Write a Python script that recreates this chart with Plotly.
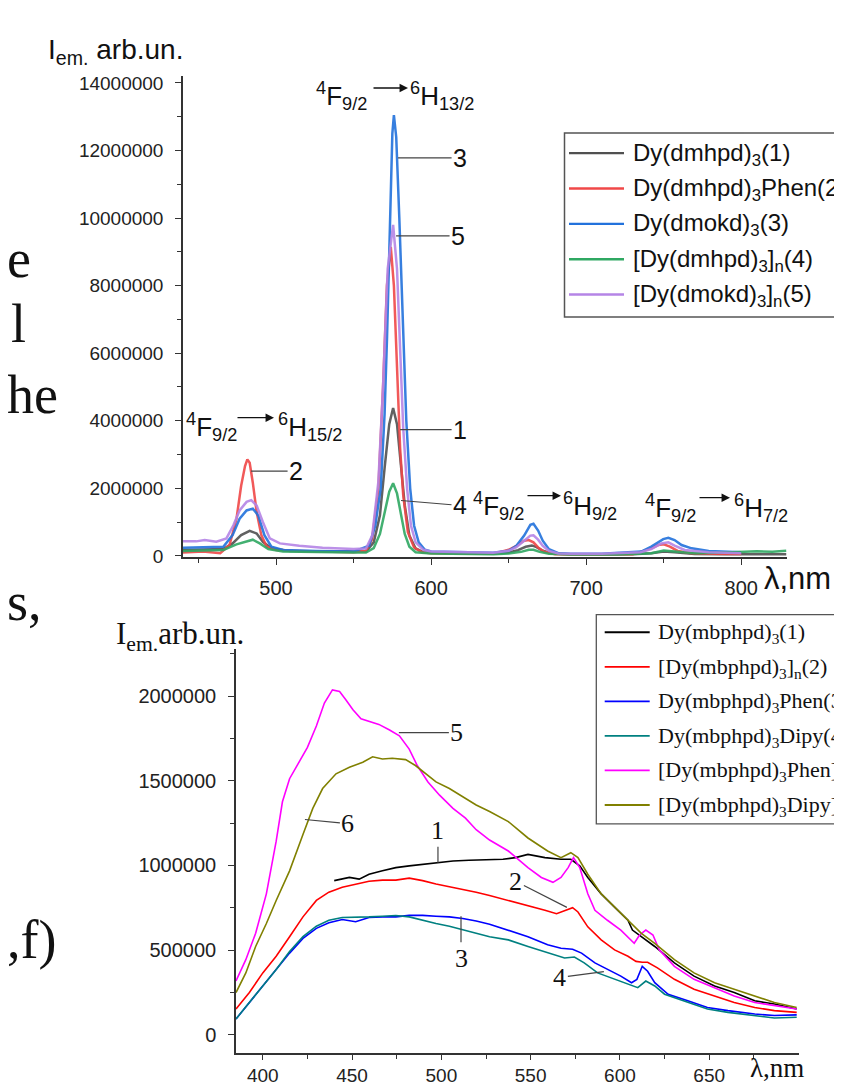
import plotly.graph_objects as go

W, H = 842, 1090

# ---------------- top chart data (nm, arb. units) ----------------
top_names = ["Dy(dmhpd)<sub>3</sub>(1)", "Dy(dmhpd)<sub>3</sub>Phen(2)", "Dy(dmokd)<sub>3</sub>(3)",
             "[Dy(dmhpd)<sub>3</sub>]<sub>n</sub>(4)", "[Dy(dmokd)<sub>3</sub>]<sub>n</sub>(5)"]
top_colors = ["#505050", "#f04848", "#2272dc", "#2fa862", "#b585e6"]

top_x_1 = [440, 452, 466, 472, 477.5, 483, 487.5, 491.5, 497, 509, 530, 550, 558, 563, 567, 570, 573, 575.5, 578,
           580.5, 583, 586, 590, 595, 600, 620, 640, 650, 656, 661, 665, 668, 672, 678, 690, 710, 730, 742, 750, 757,
           770, 790, 810, 829]
top_y_1 = [175000, 180000, 205000, 370000, 614000, 740000, 663000, 419000, 224000, 146000, 130000, 127000, 130000,
           400000, 1200000, 2600000, 3900000, 4380000, 3900000, 2700000, 1500000, 600000, 220000, 110000, 90000, 75000,
           60000, 100000, 170000, 270000, 310000, 260000, 150000, 70000, 50000, 45000, 50000, 78000, 127000, 107000,
           58000, 50000, 55000, 50000]

top_x_2 = [440, 453, 464, 470, 474.5, 477.5, 480, 481.5, 483, 485, 487.5, 490.5, 494, 500, 515, 530, 550, 558, 562,
           566, 569, 571.5, 574, 576, 578, 580, 582, 585, 589, 594, 600, 620, 640, 650, 655, 660, 663, 666, 669, 673,
           680, 690, 710, 730, 742, 746.5, 750, 754, 759, 768, 780, 800]
top_y_2 = [100000, 127000, 80000, 322000, 1101000, 2076000, 2661000, 2856000, 2758000, 2174000, 1296000, 614000,
           273000, 175000, 146000, 127000, 107000, 150000, 500000, 2000000, 5000000, 8000000, 9150000, 8000000,
           5500000, 3200000, 1800000, 700000, 250000, 110000, 80000, 65000, 60000, 180000, 300000, 450000, 470000,
           400000, 250000, 120000, 50000, 40000, 40000, 45000, 224000, 322000, 341000, 273000, 146000, 78000, 60000,
           58000]

top_x_3 = [440, 453, 466, 472, 476.5, 481, 485, 488.5, 492.5, 497, 504.5, 526, 550, 560, 564, 567.5, 570, 571.6,
           573.5, 575, 576, 577.5, 579.5, 582, 584, 586.5, 589, 592, 596, 600, 620, 640, 650, 655, 660, 664, 666, 669,
           672, 676, 682, 690, 710, 735.5, 742, 746.5, 749.7, 753, 757, 761.5, 768, 779, 790, 800]
top_y_3 = [244000, 263000, 273000, 614000, 1101000, 1345000, 1400000, 1199000, 614000, 273000, 175000, 146000,
           127000, 300000, 900000, 2000000, 4200000, 6500000, 10000000, 12500000, 13050000, 12400000, 10000000,
           6500000, 4000000, 2000000, 900000, 400000, 180000, 130000, 110000, 90000, 150000, 300000, 600000, 920000,
           950000, 750000, 450000, 200000, 80000, 60000, 65000, 127000, 273000, 419000, 497000, 536000, 468000,
           322000, 224000, 146000, 127000, 107000]

top_x_4 = [440, 466, 474.5, 481, 485, 489.5, 495, 504.5, 530, 550, 558, 563, 567, 570, 573, 575.5, 578, 580.5, 583,
           586, 590, 600, 620, 640, 650, 658, 663, 666, 670, 676, 690, 720, 742, 750, 757, 770, 790, 800, 810, 820, 829]
top_y_4 = [146000, 175000, 341000, 439000, 480000, 370000, 205000, 127000, 100000, 97000, 100000, 230000, 650000,
           1300000, 1900000, 2150000, 1850000, 1250000, 650000, 270000, 110000, 70000, 55000, 50000, 70000, 120000,
           180000, 180000, 120000, 60000, 40000, 45000, 78000, 156000, 127000, 78000, 100000, 110000, 140000, 120000,
           150000]

top_x_5 = [440, 448.5, 454, 461.5, 468, 472.5, 476.5, 481, 484, 487.5, 491.5, 496, 502.5, 515, 530, 550, 558, 562,
           566, 569, 572, 575.5, 578, 580, 582, 584.5, 587, 590, 595, 600, 620, 640, 650, 655, 660, 664, 666, 669, 672,
           676, 682, 690, 710, 735, 742, 748.5, 753, 757, 763.5, 779, 800]
top_y_5 = [430000, 430000, 468000, 419000, 517000, 906000, 1345000, 1600000, 1650000, 1491000, 1004000, 517000,
           370000, 302000, 244000, 205000, 220000, 600000, 2200000, 5000000, 8500000, 9800000, 8500000, 6000000,
           3800000, 2000000, 900000, 400000, 180000, 130000, 110000, 90000, 150000, 260000, 450000, 600000, 610000,
           480000, 300000, 150000, 70000, 60000, 60000, 110000, 205000, 370000, 400000, 302000, 175000, 107000, 78000]

top_xs = [top_x_1, top_x_2, top_x_3, top_x_4, top_x_5]
top_ys = [top_y_1, top_y_2, top_y_3, top_y_4, top_y_5]

top_yticks = [0, 2000000, 4000000, 6000000, 8000000, 10000000, 12000000, 14000000]
top_xticks = [500, 600, 700, 800]

# ---------------- bottom chart data ----------------
bot_names = ["Dy(mbphpd)<sub>3</sub>(1)", "[Dy(mbphpd)<sub>3</sub>]<sub>n</sub>(2)", "Dy(mbphpd)<sub>3</sub>Phen(3)",
             "Dy(mbphpd)<sub>3</sub>Dipy(4)", "[Dy(mbphpd)<sub>3</sub>Phen]<sub>n</sub>(5)",
             "[Dy(mbphpd)<sub>3</sub>Dipy]<sub>n</sub>(6)"]
bot_colors = ["#000000", "#ff0000", "#0000ff", "#008080", "#ff00ff", "#808000"]

bot_x_1 = [440, 448.5, 454, 459.5, 467, 474.5, 482, 489.5, 497, 506.5, 515.5, 525, 534.5, 541.5, 548.5, 558, 567,
           572.5, 577.5, 582, 589.5, 597, 604.5, 607, 612, 619.5, 630.5, 641.5, 653, 664, 675.5, 686.5, 699]
bot_y_1 = [910000, 929000, 919000, 948000, 968000, 987000, 997000, 1007000, 1017000, 1026000, 1030000, 1032000,
           1036000, 1046000, 1065000, 1046000, 1036000, 1036000, 997000, 929000, 832000, 754000, 676000, 618000,
           579000, 521000, 424000, 346000, 288000, 249000, 200000, 181000, 152000]

bot_x_2 = [385, 392.5, 400, 407.5, 415, 422.5, 430, 437, 444.5, 452, 459.5, 467, 474.5, 482, 489.5, 497, 504.5, 512,
           519.5, 527, 537.5, 548.5, 558, 564.5, 570, 573.5, 576.5, 582, 589.5, 597, 604.5, 609, 612.5, 615.5, 621,
           630.5, 641.5, 653, 664, 675.5, 686.5, 699]
bot_y_2 = [152000, 249000, 365000, 463000, 579000, 696000, 793000, 842000, 871000, 890000, 906000, 913000, 913000,
           925000, 910000, 890000, 875000, 861000, 842000, 822000, 793000, 764000, 735000, 715000, 735000, 750000,
           725000, 637000, 560000, 501000, 463000, 433000, 428000, 428000, 395000, 327000, 268000, 229000, 190000,
           161000, 142000, 132000]

bot_x_3 = [385, 392.5, 400, 407.5, 415, 422.5, 430, 437, 444.5, 452, 459.5, 467, 474.5, 482, 489.5, 497, 504.5, 512,
           519.5, 527, 537.5, 548.5, 559.5, 567, 573.5, 578.5, 586, 593, 600.5, 606.5, 609.5, 612.5, 615.5, 619.5,
           627, 638, 649, 660.5, 675.5, 686.5, 699]
bot_y_3 = [93000, 190000, 288000, 385000, 482000, 569000, 628000, 661000, 680000, 667000, 692000, 696000, 696000,
           705000, 705000, 700000, 696000, 686000, 672000, 653000, 618000, 579000, 531000, 511000, 505000, 482000,
           424000, 385000, 346000, 307000, 327000, 404000, 375000, 307000, 239000, 200000, 161000, 142000, 122000,
           113000, 117000]

bot_x_4 = [385, 392.5, 400, 407.5, 415, 422.5, 430, 437, 444.5, 452, 459.5, 467, 474.5, 482, 489.5, 497, 504.5, 512,
           519.5, 527, 537.5, 548.5, 559.5, 569, 574.5, 580, 587.5, 597, 606.5, 610, 614.5, 619.5, 625, 638, 649,
           660.5, 675.5, 686.5, 699]
bot_y_4 = [93000, 190000, 288000, 385000, 492000, 579000, 641000, 676000, 692000, 692000, 696000, 700000, 704000,
           696000, 676000, 657000, 641000, 622000, 599000, 579000, 560000, 521000, 482000, 453000, 459000, 424000,
           365000, 327000, 288000, 278000, 317000, 288000, 239000, 190000, 152000, 132000, 113000, 99000, 103000]

bot_x_5 = [385, 390.5, 396, 402, 407.5, 411, 415, 420.5, 425, 430, 434.5, 439, 443, 446.5, 450.5, 455, 459.5, 465,
           471, 476.5, 482, 486.5, 492.5, 499, 506.5, 513.5, 519.5, 527, 537.5, 548.5, 556, 562.5, 567, 571, 574,
           577.5, 582, 586, 593, 600.5, 608, 611, 614.5, 618.5, 622, 630.5, 641.5, 653, 664, 675.5, 686.5, 699]
bot_y_5 = [317000, 443000, 599000, 832000, 1143000, 1376000, 1512000, 1609000, 1697000, 1823000, 1959000, 2037000,
           2027000, 1979000, 1920000, 1866000, 1852000, 1833000, 1800000, 1765000, 1687000, 1590000, 1493000,
           1415000, 1337000, 1279000, 1211000, 1150000, 1085000, 987000, 929000, 900000, 929000, 987000, 1046000,
           987000, 832000, 735000, 676000, 618000, 540000, 589000, 618000, 589000, 501000, 404000, 327000, 278000,
           229000, 190000, 171000, 152000]

bot_x_6 = [385, 390.5, 396, 402, 407.5, 415, 422.5, 428, 433.5, 441, 448.5, 456, 461.5, 467, 472.5, 480, 485.5,
           491.5, 497, 504.5, 512, 519.5, 527, 537.5, 548.5, 559.5, 567, 572.5, 576.5, 582, 589.5, 597, 604.5, 612,
           619.5, 630.5, 641.5, 653, 664, 675.5, 686.5, 699]
bot_y_6 = [249000, 365000, 521000, 657000, 793000, 968000, 1182000, 1337000, 1454000, 1541000, 1580000, 1609000,
           1642000, 1629000, 1633000, 1625000, 1590000, 1541000, 1493000, 1454000, 1405000, 1357000, 1318000,
           1259000, 1162000, 1085000, 1046000, 1075000, 1046000, 948000, 832000, 754000, 676000, 599000, 540000,
           443000, 365000, 307000, 268000, 229000, 190000, 161000]

bot_xs = [bot_x_1, bot_x_2, bot_x_3, bot_x_4, bot_x_5, bot_x_6]
bot_ys = [bot_y_1, bot_y_2, bot_y_3, bot_y_4, bot_y_5, bot_y_6]

bot_yticks = [0, 500000, 1000000, 1500000, 2000000]
bot_xticks = [400, 450, 500, 550, 600, 650]

# ---------------- helpers (pixel -> paper) ----------------
def px(x):
    return x / W

def py(y):
    return 1 - y / H

SANS = "Arial, Liberation Sans, sans-serif"
SERIF = "Times New Roman, Liberation Serif, serif"

fig = go.Figure()
for xs, ys, nm, c in zip(top_xs, top_ys, top_names, top_colors):
    fig.add_trace(go.Scatter(x=xs, y=ys, name=nm, mode="lines", line=dict(color=c, width=2.5),
                             opacity=0.9, showlegend=False, xaxis="x", yaxis="y"))
for xs, ys, nm, c in zip(bot_xs, bot_ys, bot_names, bot_colors):
    fig.add_trace(go.Scatter(x=xs, y=ys, name=nm, mode="lines", line=dict(color=c, width=1.6),
                             showlegend=False, xaxis="x2", yaxis="y2"))

axis_common = dict(showline=True, linecolor="#333", linewidth=1.5, ticks="outside", tickcolor="#333",
                   ticklen=6, tickwidth=1.3, showgrid=False, zeroline=False, mirror=False)

fig.update_layout(
    width=W, height=H, margin=dict(l=0, r=0, t=0, b=0),
    paper_bgcolor="white", plot_bgcolor="white", showlegend=False,
    xaxis=dict(axis_common, domain=[px(175), px(779)], range=[440, 829.5], tickvals=top_xticks,
               tickfont=dict(family=SANS, size=20, color="#222"), anchor="y", ticklabelstandoff=6,
               minor=dict(tickvals=[450, 550, 650, 750], ticks="outside", ticklen=4, tickcolor="#333")),
    yaxis=dict(axis_common, domain=[py(552), py(65)], range=[-30000, 14200000], tickvals=top_yticks,
               tickformat="d", tickfont=dict(family=SANS, size=19, color="#222"), anchor="x", ticklabelstandoff=8,
               minor=dict(dtick=1000000, tick0=0, ticks="outside", ticklen=4, tickcolor="#333")),
    xaxis2=dict(axis_common, domain=[px(228), px(790.5)], range=[385, 700], tickvals=bot_xticks,
                tickfont=dict(family=SANS, size=19, color="#222"), anchor="y2", ticklabelstandoff=0,
                ticklen=5,
                minor=dict(tickvals=[425, 475, 525, 575, 625, 675], ticks="outside", ticklen=4, tickcolor="#333")),
    yaxis2=dict(axis_common, domain=[py(1054.3), py(645)], range=[-106700, 2280000], tickvals=bot_yticks,
                tickformat="d", tickfont=dict(family=SANS, size=20, color="#222"), anchor="x2",
                ticklabelstandoff=8,
                minor=dict(dtick=250000, tick0=0, ticks="outside", ticklen=4, tickcolor="#333")),
)

ann = []
shapes = []

def text(x, y, t, size, family=SANS, xanchor="left", yanchor="middle", color="#111", xshift=0):
    ann.append(dict(x=px(x), y=py(y), xref="paper", yref="paper", text=t, showarrow=False, xshift=xshift,
                    xanchor=xanchor, yanchor=yanchor, font=dict(family=family, size=size, color=color)))

# fragments of the page text visible at the left edge
for t, xl, yc in [("e", 0, 250), ("l", 4, 316), ("he", 0, 388), ("s,", 0, 598), (",f)", 0, 940)]:
    text(xl, yc, t, 54, SERIF, xanchor="left", xshift=-3)

# axis titles
text(38, 40, "I<sub>em.</sub> arb.un.", 28)
text(754, 574, "λ,nm", 31)
text(106, 632, "I<sub>em.</sub>arb.un.", 31, SERIF)
text(740, 1070, "λ,nm", 27, SERIF)

# transition labels (top chart)
def transition(xl, yl, x_arrow0, x_arrow1, y_arrow, xr, right_sub):
    text(xl, yl, "<sup>4</sup>F<sub>9/2</sub>", 26)
    text(xr, yl, "<sup>6</sup>H<sub>" + right_sub + "</sub>", 26)
    ann.append(dict(x=px(x_arrow1), y=py(y_arrow), xref="paper", yref="paper", text="",
                    ax=x_arrow0 - x_arrow1, ay=0, axref="pixel", ayref="pixel", showarrow=True,
                    arrowhead=2, arrowsize=1.3, arrowwidth=1.3, arrowcolor="#111"))

transition(306, 85, 364, 400, 77, 400, "13/2")
transition(176, 420, 228, 266, 411, 268, "15/2")
transition(463, 500, 518, 553, 490, 553, "9/2")
transition(635, 502, 690, 722, 492, 724, "7/2")

# curve number labels with leader lines (point on curve in data units, text offset in px)
def curve_label(xref, yref, x, y, t, dx, dy, size, family):
    ann.append(dict(x=x, y=y, xref=xref, yref=yref, text=t, showarrow=True, arrowhead=0, arrowwidth=1.2,
                    arrowcolor="#444", ax=dx, ay=dy, font=dict(family=family, size=size, color="#111")))

curve_label("x", "y", 578.7, 11780000, "3", 62, 0, 25, SANS)
curve_label("x", "y", 577.4, 9470000, "5", 62, 0, 25, SANS)
curve_label("x", "y", 580.0, 3740000, "1", 60, 0, 25, SANS)
curve_label("x", "y", 580.6, 1640000, "4", 59, 5, 25, SANS)
curve_label("x", "y", 483.9, 2510000, "2", 45, 0, 25, SANS)

curve_label("x2", "y2", 476.2, 1784000, "5", 58, 0, 26, SERIF)
curve_label("x2", "y2", 423.6, 1271000, "6", 43, 4, 26, SERIF)
curve_label("x2", "y2", 498.1, 1015000, "1", 0, -32, 26, SERIF)
curve_label("x2", "y2", 570.3, 752000, "2", -51, -26, 26, SERIF)
curve_label("x2", "y2", 511.0, 700000, "3", 0, 42, 26, SERIF)
curve_label("x2", "y2", 591.0, 373000, "4", -44, 6, 26, SERIF)

# legend boxes (drawn manually, running into the page edge like the reference)
shapes.append(dict(type="rect", xref="paper", yref="paper", x0=px(556.5), x1=px(870), y0=py(309), y1=py(122.5),
                   line=dict(color="#555", width=1.5), fillcolor="white", layer="below"))
for i, (nm, c) in enumerate(zip(top_names, top_colors)):
    yy = 143 + i * 35.8
    shapes.append(dict(type="line", xref="paper", yref="paper", x0=px(561), x1=px(616), y0=py(yy), y1=py(yy),
                       line=dict(color=c, width=2.4)))
    text(623, yy + 1, nm, 24, SANS)

shapes.append(dict(type="rect", xref="paper", yref="paper", x0=px(588.3), x1=px(870), y0=py(822.5), y1=py(610.5),
                   line=dict(color="#555", width=1.3), fillcolor="white", layer="below"))
for i, (nm, c) in enumerate(zip(bot_names, bot_colors)):
    yy = 628.3 + i * 35
    shapes.append(dict(type="line", xref="paper", yref="paper", x0=px(596.7), x1=px(641.7), y0=py(yy), y1=py(yy),
                       line=dict(color=c, width=1.8)))
    text(648, yy + 1, nm, 22, SERIF)

fig.update_layout(annotations=ann, shapes=shapes)
fig.write_html("out.html")
